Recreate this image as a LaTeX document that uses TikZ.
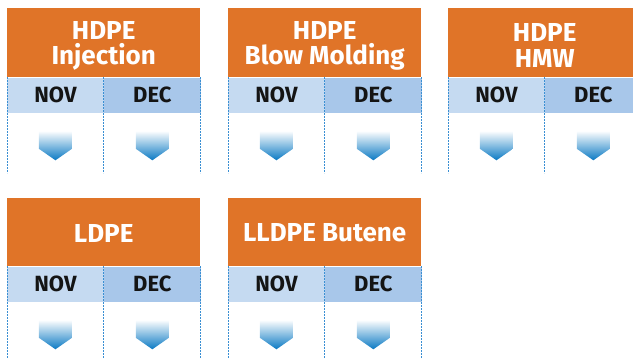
\documentclass[tikz,border=0pt]{standalone}
\usepackage{fontspec}
\setmainfont{Fira Sans}
\definecolor{hdrorange}{HTML}{E07428}
\definecolor{novblue}{HTML}{C5DAF1}
\definecolor{decblue}{HTML}{A8C7EA}
\definecolor{rulecol}{HTML}{3A8FD3}
\definecolor{arrowblue}{HTML}{0A79C3}

\tikzset{
  header/.style={fill=hdrorange, draw=none, minimum width=193pt, inner sep=0pt,
    anchor=north west},
  titletext/.style={inner sep=0pt, text=white, align=center,
    font=\fontsize{26}{25.6}\selectfont\bfseries},
  monthcell/.style={draw=none, minimum width=96.5pt, minimum height=35pt, inner sep=0pt,
    anchor=north west, text=black!92, font=\fontsize{22}{24}\selectfont\bfseries},
  novcell/.style={monthcell, fill=novblue},
  deccell/.style={monthcell, fill=decblue},
  ruleline/.style={rulecol, line width=1pt, dash pattern=on 1.2pt off 1.8pt},
  arrowshade/.style={top color=white, middle color=arrowblue!88, bottom color=arrowblue,
    draw=none},
  downarrow/.pic={
    \shade[arrowshade] (-16.5,0) -- (16.5,0) -- (16.5,18) -- (0,29.5) -- (-16.5,18) -- cycle;
  }
}

% one product panel: name, left x, top y, title, header height, rule length, title shift
\newcommand\polypanel[7]{%
  \node[header, minimum height=#5] (#1-head) at (#2,#3) {};
  \node[titletext, yshift=#7] (#1-title) at (#1-head.center) {#4};
  \node[novcell] (#1-nov) at (#1-head.south west) {NOV};
  \node[deccell] (#1-dec) at (#1-nov.north east) {DEC};
  \draw[ruleline] (#1-nov.north west) -- ++(0,#6);
  \draw[ruleline] (#1-nov.north east) -- ++(0,#6);
  \draw[ruleline] (#1-dec.north east) -- ++(0,#6);
  \path (#1-nov.south) ++(0,18) coordinate (#1-na);
  \path (#1-dec.south) ++(0,18) coordinate (#1-da);
  \pic at (#1-na) {downarrow};
  \pic at (#1-da) {downarrow};
}

\begin{document}
\begin{tikzpicture}[x=1pt, y=-1pt]
  \useasboundingbox (0,0) rectangle (633,357);
  \clip (0,0) rectangle (633,357);
  \polypanel{inj}{7}{8}{HDPE\\Injection}{69pt}{96}{-3pt}
  \polypanel{blow}{228}{8}{HDPE\\Blow Molding}{69pt}{96}{-3pt}
  \polypanel{hmw}{448}{8}{HDPE\\HMW}{69pt}{96}{-3pt}
  \polypanel{ldpe}{7}{198}{LDPE}{68pt}{95}{-1pt}
  \polypanel{lldpe}{228}{198}{LLDPE Butene}{68pt}{95}{-1pt}
\end{tikzpicture}
\end{document}
